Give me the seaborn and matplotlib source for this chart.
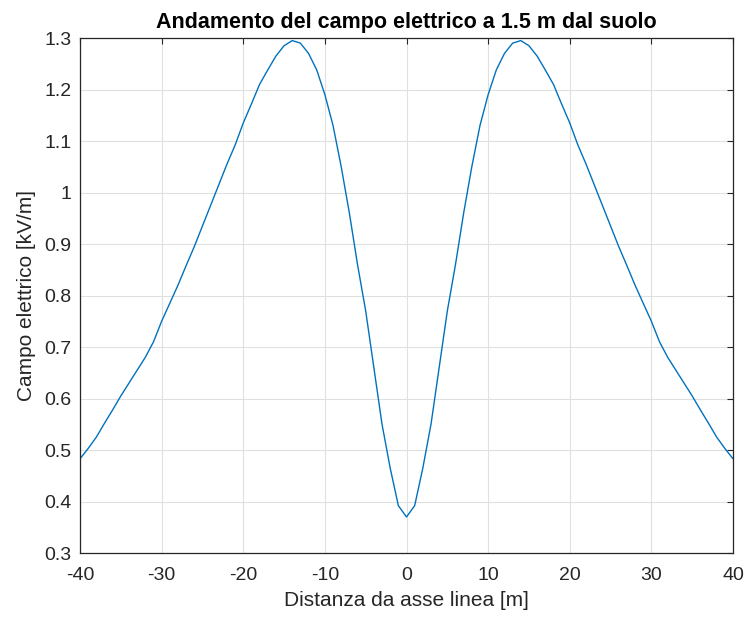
# Campo elettrico a 1.5 m dal suolo - ricostruzione del grafico

import pandas as pd
import seaborn as sns
import matplotlib.pyplot as plt


# ==============================
# DATI
# ==============================

distanza = list(range(-40, 41))

campo = [
    0.483, 0.503, 0.525, 0.552, 0.578, 0.605, 0.630, 0.655, 0.680, 0.710,
    0.750, 0.785, 0.820, 0.858, 0.895, 0.935, 0.975, 1.015, 1.055, 1.092,
    1.135, 1.172, 1.210, 1.238, 1.265, 1.285, 1.295, 1.290, 1.270, 1.238,
    1.190, 1.130, 1.050, 0.960, 0.860, 0.770, 0.660, 0.550, 0.465, 0.392,
    0.370,
    0.392, 0.465, 0.550, 0.660, 0.770, 0.860, 0.960, 1.050, 1.130, 1.190,
    1.238, 1.270, 1.290, 1.295, 1.285, 1.265, 1.238, 1.210, 1.172, 1.135,
    1.092, 1.055, 1.015, 0.975, 0.935, 0.895, 0.858, 0.820, 0.785, 0.750,
    0.710, 0.680, 0.655, 0.630, 0.605, 0.578, 0.552, 0.525, 0.503, 0.483,
]

x_ticks = [-40, -30, -20, -10, 0, 10, 20, 30, 40]
y_ticks = [0.3, 0.4, 0.5, 0.6, 0.7, 0.8, 0.9, 1.0, 1.1, 1.2, 1.3]
y_labels = ["0.3", "0.4", "0.5", "0.6", "0.7", "0.8", "0.9", "1", "1.1", "1.2", "1.3"]

df = pd.DataFrame({"distanza": distanza, "campo": campo})


# ==============================
# GRAFICO
# ==============================

sns.set_style("whitegrid")
plt.rcParams["font.family"] = ["Liberation Sans", "DejaVu Sans"]

fig = plt.figure(figsize=(7.45, 6.19), dpi=100)
ax = fig.add_axes([0.1074, 0.1066, 0.8765, 0.8320])

sns.lineplot(data=df, x="distanza", y="campo", ax=ax, color="#0072BD", linewidth=1.0)

ax.set_xlim(-40, 40)
ax.set_ylim(0.3, 1.3)
ax.set_xticks(x_ticks)
ax.set_xticklabels([str(t) for t in x_ticks])
ax.set_yticks(y_ticks)
ax.set_yticklabels(y_labels)

ax.grid(True, color="#E0E0E0", linewidth=0.8)
for s in ax.spines.values():
    s.set_color("#262626")
    s.set_linewidth(0.9)

ax.tick_params(axis="both", direction="in", length=4, width=0.8, colors="#262626",
               labelsize=14, top=True, right=True)
ax.tick_params(axis="x", pad=10)
ax.tick_params(axis="y", pad=6)

ax.set_xlabel("Distanza da asse linea [m]", fontsize=15, color="#262626", labelpad=5)
ax.set_ylabel("Campo elettrico [kV/m]", fontsize=15, color="#262626", labelpad=6)
ax.set_title("Andamento del campo elettrico a 1.5 m dal suolo", fontsize=15.5,
             fontweight="bold", color="black", pad=7)

fig.savefig("out.png", dpi=100, facecolor="white")
